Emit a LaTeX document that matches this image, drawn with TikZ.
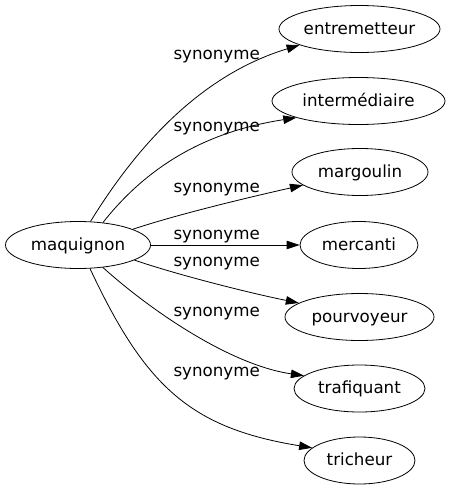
\documentclass[tikz,border=0pt]{standalone}
\usepackage{fontspec}
\setmainfont{DejaVu Sans}
\usetikzlibrary{shapes.geometric,arrows.meta}

\begin{document}
\begin{tikzpicture}[x=1pt,y=-1pt,
  word/.style={draw,ellipse,inner sep=0pt,minimum height=47pt,line width=0.8pt,
    text height=10pt,text depth=0pt,font=\fontsize{16.7}{18}\selectfont},
  syn/.style={-{Triangle[length=13pt,width=8.5pt]},line width=0.8pt},
  lbl/.style={anchor=base,inner sep=0pt,font=\fontsize{16.7}{18}\selectfont}]
\useasboundingbox (0,0) rectangle (449,491);
\node[word,minimum width=145pt] (maq) at (78,245) {maquignon};
\node[word,minimum width=161pt] (ent) at (359.5,29) {entremetteur};
\node[word,minimum width=173pt] (int) at (358.5,101) {intermédiaire};
\node[word,minimum width=136pt] (mar) at (360,172) {margoulin};
\node[word,minimum width=118pt] (mer) at (359,245) {mercanti};
\node[word,minimum width=149pt] (pou) at (359.5,317) {pourvoyeur};
\node[word,minimum width=131pt] (tra) at (359.5,388.5) {trafiquant};
\node[word,minimum width=111pt] (tri) at (359.5,460.5) {tricheur};
\draw[syn] (maq.62) .. controls (148,128) and (214,71) .. (ent.195);
\draw[syn] (maq.42) .. controls (160,150) and (230,128) .. (int.195);
\draw[syn] (maq.16) .. controls (175,215) and (250,197) .. (mar.193);
\draw[syn] (maq.east) -- (mer.west);
\draw[syn] (maq.-15) .. controls (175,274) and (245,292) .. (pou.167);
\draw[syn] (maq.-42) .. controls (150,310) and (230,365) .. (tra.167);
\draw[syn] (maq.-63) .. controls (145,386) and (190,428) .. (tri.165);
\node[lbl] (l1) at (216.7,59.3) {synonyme};
\node[lbl] (l2) at (216.7,131.7) {synonyme};
\node[lbl] (l3) at (216.7,192.7) {synonyme};
\node[lbl] (l4) at (216.7,239) {synonyme};
\node[lbl] (l5) at (216.7,266.7) {synonyme};
\node[lbl] (l6) at (216.7,316) {synonyme};
\node[lbl] (l7) at (216.7,376.7) {synonyme};
\end{tikzpicture}
\end{document}
